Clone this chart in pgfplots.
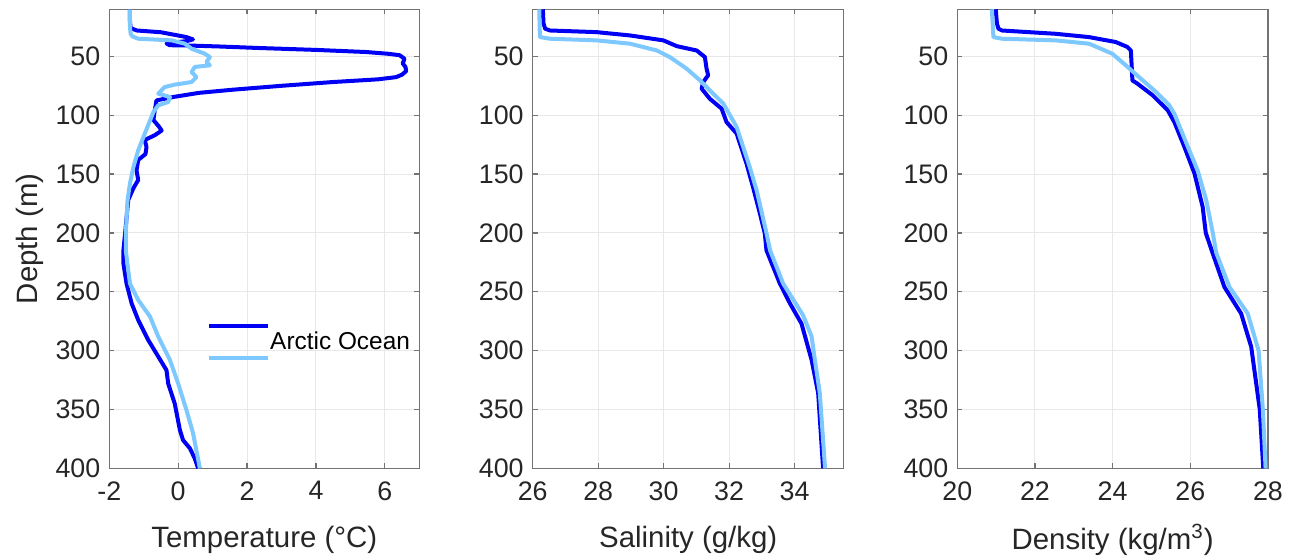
\documentclass[border=0pt]{standalone}
\usepackage{fontspec}
\setmainfont{Liberation Sans}
\usepackage{pgfplots}
\pgfplotsset{compat=1.18}

\definecolor{dblue}{RGB}{0,0,245}
\definecolor{lblue}{RGB}{125,200,255}
\definecolor{txt}{RGB}{38,38,38}
\newcommand\tickfont{\fontsize{13.4}{16}\selectfont}
\newcommand\labelfont{\fontsize{14.7}{17}\selectfont}
\newcommand\legfont{\fontsize{12.2}{14}\selectfont}

\pgfplotsset{
  prof/.style={
    scale only axis, height=229.5pt,
    y dir=reverse, ymin=10, ymax=400, ytick={50,100,...,400},
    grid=major, major grid style={black!9, line width=0.5pt},
    axis line style={black!55, line width=0.6pt},
    tick style={black!55, line width=0.6pt},
    major tick length=2.5pt, tick align=inside,
    ticklabel style={font=\tickfont, color=txt},
    xticklabel style={yshift=-3pt},
    yticklabel style={xshift=-1pt},
    label style={font=\labelfont, color=txt},
    xlabel style={at={(axis description cs:0.5,-0.156)}, anchor=center},
    /pgf/number format/assume math mode=true,
  },
  dk/.style={draw=dblue, line width=2pt, line join=round, no marks, forget plot},
  lt/.style={draw=lblue, line width=2pt, line join=round, no marks, forget plot},
}

\begin{document}
\begin{tikzpicture}
\path[use as bounding box] (-54.65pt,-44.35pt) rectangle (589.85pt,234.15pt);

\begin{axis}[prof, at={(0pt,0pt)}, width=155pt,
  xmin=-2, xmax=7, xtick={-2,0,2,4,6},
  xlabel={Temperature (°C)}, ylabel={Depth (m)},
  ylabel style={at={(axis description cs:-0.2566,0.5)}, anchor=center},
  legend style={draw=none, fill=none, at={(axis description cs:0.3147,0.275)},
    anchor=west, inner xsep=0pt, inner ysep=0pt, font=\legfont, text=black,
    nodes={inner sep=0pt}},
  legend cell align=left]
\addplot[dk] coordinates {(-1.40,10) (-1.40,20) (-1.38,26) (-1.2,28) (-0.5,29.5)
  (0.24,33.6) (0.43,35.6) (0.24,37) (-0.34,39) (-0.25,40.5) (0.34,40.8) (1.2,41.6)
  (2.37,42.9) (4.0,44.5) (5.46,46.3) (6.1,47.8) (6.43,49) (6.57,52) (6.52,56)
  (6.60,59) (6.62,62.5) (6.50,65.5) (6.33,67.6) (5.8,69.5) (4.49,71.8) (3.0,75)
  (1.59,78.3) (0.6,81) (-0.14,84.5) (-0.63,87.4) (-0.68,96) (-0.72,104)
  (-0.55,110) (-0.48,113) (-0.68,117) (-0.97,121) (-0.92,127) (-0.95,133)
  (-1.16,138) (-1.21,147) (-1.16,155) (-1.30,162) (-1.45,172) (-1.54,200)
  (-1.59,215) (-1.59,226) (-1.50,243) (-1.35,260) (-1.16,274) (-0.87,291)
  (-0.58,305) (-0.34,316.6) (-0.29,328) (-0.10,345) (0.05,367.5) (0.14,376)
  (0.34,383) (0.48,391.6) (0.58,400)};
\addplot[lt] coordinates {(-1.40,10) (-1.40,25) (-1.38,31) (-1.33,33) (-1.16,35)
  (-0.19,36.4) (0.19,39.2) (0.39,43.5) (0.77,47.7) (0.92,50.6) (0.82,54.8)
  (0.92,57.6) (0.48,59) (0.39,63.3) (0.53,67.6) (0.39,71.8) (-0.10,74)
  (-0.39,76) (-0.58,81.7) (-0.24,84.5) (-0.29,88.8) (-0.58,91.6) (-0.72,97.3)
  (-0.97,115.6) (-1.16,129.8) (-1.30,144) (-1.40,158) (-1.47,172) (-1.52,200)
  (-1.52,215) (-1.45,231.7) (-1.40,243) (-1.16,257) (-0.82,271) (-0.58,288)
  (-0.24,308) (0.0,328) (0.24,350.5) (0.43,370) (0.63,400)};
\addlegendimage{legend image code/.code={
  \draw[dblue, line width=2pt] (0pt,8pt) -- (29.5pt,8pt);
  \draw[lblue, line width=2pt] (0pt,-8pt) -- (29.5pt,-8pt);}}
\addlegendentry{Arctic Ocean}
\end{axis}

\begin{axis}[prof, at={(211.7pt,0pt)}, width=155.5pt,
  xmin=26, xmax=35.5, xtick={26,28,...,34},
  xlabel={Salinity (g/kg)}]
\addplot[dk] coordinates {(26.31,10) (26.33,22) (26.38,26.5) (26.53,28)
  (27.95,29.4) (28.97,32.2) (29.99,36.4) (30.40,41.3) (31.01,45) (31.26,50.6)
  (31.31,60.4) (31.36,66) (31.21,71.8) (31.16,77.4) (31.41,86) (31.77,94.4)
  (31.92,105.8) (32.23,115.6) (32.53,141) (32.73,161) (32.94,183.5)
  (33.09,200.5) (33.14,214.7) (33.55,243) (33.86,260) (34.21,277) (34.52,308)
  (34.72,336) (34.87,400)};
\addplot[lt] coordinates {(26.2,10) (26.22,33.6) (26.53,35) (27.95,36.4)
  (28.97,39.2) (29.79,45) (30.19,50.6) (30.70,60.4) (31.11,70.4) (31.41,78.9)
  (31.82,90) (32.23,110) (32.63,144) (32.84,163.8) (33.14,200) (33.25,214.7)
  (33.65,243) (34.26,270) (34.52,288) (34.62,308) (34.77,336) (34.93,400)};
\end{axis}

\begin{axis}[prof, at={(424pt,0pt)}, width=155.3pt,
  xmin=20, xmax=28, xtick={20,22,...,28},
  xlabel={Density (kg/m\textsuperscript{3})}]
\addplot[dk] coordinates {(20.99,10) (21.02,22) (21.06,26.5) (21.15,28)
  (22.53,30.8) (23.39,33.6) (24.08,37.8) (24.38,42) (24.47,45) (24.49,57.6)
  (24.51,70.4) (24.64,73.2) (25.03,83) (25.42,95.8) (25.59,105.8) (25.85,127)
  (26.11,149.6) (26.32,178) (26.40,200) (26.58,217.5) (26.88,246) (27.31,268.5)
  (27.57,296.8) (27.79,350) (27.88,400)};
\addplot[lt] coordinates {(20.89,10) (20.93,33.6) (21.15,35) (22.53,36.4)
  (23.39,39.2) (23.99,47.7) (24.34,57.6) (24.68,67.6) (25.12,80.3) (25.46,91.6)
  (25.59,98.7) (25.94,127) (26.19,146.8) (26.41,172) (26.58,200) (26.67,217)
  (27.01,246) (27.48,268.5) (27.76,300) (27.87,350) (27.94,400)};
\end{axis}
\end{tikzpicture}
\end{document}
